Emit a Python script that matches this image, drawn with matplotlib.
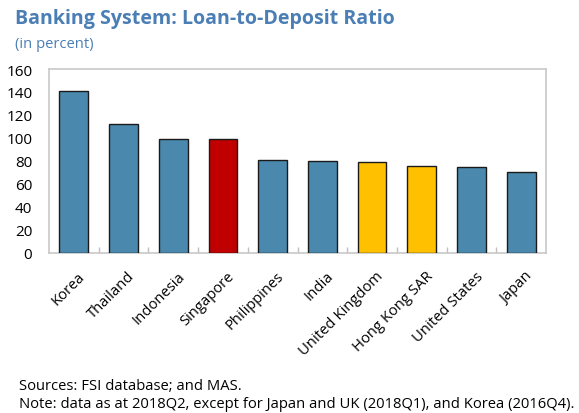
import matplotlib
matplotlib.use("Agg")
import matplotlib.pyplot as plt
import numpy as np

countries = ["Korea", "Thailand", "Indonesia", "Singapore", "Philippines",
             "India", "United Kingdom", "Hong Kong SAR", "United States", "Japan"]
ratios = [140.6, 112.0, 99.5, 98.8, 80.7, 80.4, 79.2, 75.5, 74.9, 70.8]
bar_colors = ["#4a89ad", "#4a89ad", "#4a89ad", "#c00000", "#4a89ad",
              "#4a89ad", "#ffc000", "#ffc000", "#4a89ad", "#4a89ad"]
y_ticks = [0, 20, 40, 60, 80, 100, 120, 140, 160]

plt.rcParams["font.family"] = ["Open Sans", "DejaVu Sans"]

fig = plt.figure(figsize=(5.79, 4.14), dpi=100)
ax = fig.add_axes([49 / 579, 1 - 254 / 414, 497 / 579, 184 / 414])

x = np.arange(len(countries))
ax.bar(x, ratios, width=0.58, color=bar_colors, edgecolor="#1a1a1a", linewidth=1.0, zorder=3)

ax.set_xlim(-0.5, len(countries) - 0.5)
ax.set_ylim(0, 160)
ax.set_yticks(y_ticks)
ax.set_yticklabels([str(v) for v in y_ticks], fontsize=11)
ax.tick_params(axis="y", length=0, pad=12)

ax.set_xticks(x + 0.08)
ax.set_xticklabels(countries, rotation=45, ha="right", rotation_mode="anchor", fontsize=10.6)
ax.tick_params(axis="x", length=0, pad=11)
# minor ticks at category boundaries, pointing inward
ax.set_xticks(np.arange(0.5, len(countries) - 0.5, 1), minor=True)
ax.tick_params(axis="x", which="minor", direction="in", length=4, color="#bfbfbf", width=1)

for s in ax.spines.values():
    s.set_color("#c8c8c8")
    s.set_linewidth(1.2)

fig.text(15 / 579, 1 - 19 / 414, "Banking System: Loan-to-Deposit Ratio", fontsize=14.1,
         fontweight="bold", color="#4a7eb5", va="center", ha="left")
fig.text(15 / 579, 1 - 44 / 414, "(in percent)", fontsize=10.6, color="#4a7eb5", va="center", ha="left")

fig.text(19 / 579, 1 - 387 / 414, "Sources: FSI database; and MAS.", fontsize=10.6, va="center", ha="left")
fig.text(19 / 579, 1 - 405 / 414,
         "Note: data as at 2018Q2, except for Japan and UK (2018Q1), and Korea (2016Q4).",
         fontsize=10.6, va="center", ha="left")

fig.savefig("out.png", dpi=100)
